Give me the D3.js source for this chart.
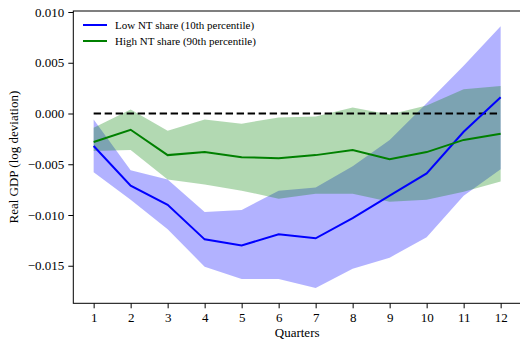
<!DOCTYPE html>
<html>
<head>
<meta charset="utf-8">
<script src="https://cdn.jsdelivr.net/npm/d3@7"></script>
<style>
  html, body { margin: 0; padding: 0; background: #fff; }
  svg { display: block; font-family: "Liberation Serif", "DejaVu Serif", serif; }
</style>
</head>
<body>
<svg id="chart" width="520" height="342"></svg>
<script>
// Impulse responses of real GDP by quarter, with confidence bands
const quarters = [1, 2, 3, 4, 5, 6, 7, 8, 9, 10, 11, 12];

const lowNT      = [-0.0032, -0.0071, -0.0090, -0.0124, -0.0130, -0.0119, -0.0123, -0.0103, -0.0081, -0.0059, -0.0018, 0.0016];
const lowNTUpper = [-0.0006, -0.0056, -0.0065, -0.0097, -0.0095, -0.0076, -0.0073, -0.0052, -0.0026, 0.0010, 0.0047, 0.0086];
const lowNTLower = [-0.0058, -0.0085, -0.0114, -0.0151, -0.0163, -0.0163, -0.0172, -0.0153, -0.0142, -0.0122, -0.0081, -0.0055];

const highNT      = [-0.0028, -0.0016, -0.0041, -0.0038, -0.0043, -0.0044, -0.0041, -0.0036, -0.0045, -0.0038, -0.0026, -0.0020];
const highNTUpper = [-0.0014, 0.0004, -0.0017, -0.0006, -0.0010, -0.0004, -0.0003, 0.0006, -0.0001, 0.0008, 0.0024, 0.0027];
const highNTLower = [-0.0037, -0.0036, -0.0065, -0.0070, -0.0076, -0.0084, -0.0079, -0.0079, -0.0087, -0.0085, -0.0077, -0.0067];

const yTicks = [0.010, 0.005, 0.000, -0.005, -0.010, -0.015];
const legendLabels = ["Low NT share (10th percentile)", "High NT share (90th percentile)"];

const svg = d3.select("#chart");
const plotLeft = 73.3, plotRight = 521, plotTop = 11, plotBottom = 303.3;

const x = d3.scaleLinear().domain([0.45, 12.55]).range([plotLeft, plotRight]);
const y = d3.scaleLinear().domain([-0.0187, 0.0101]).range([plotBottom, plotTop]);

const band = (upper, lower) => d3.area()
  .x((d, i) => x(quarters[i]))
  .y0((d, i) => y(lower[i]))
  .y1((d, i) => y(upper[i]));

const line = vals => d3.line()
  .x((d, i) => x(quarters[i]))
  .y((d, i) => y(vals[i]));

// confidence bands
svg.append("path").datum(lowNT).attr("d", band(lowNTUpper, lowNTLower))
  .attr("fill", "blue").attr("fill-opacity", 0.3);
svg.append("path").datum(highNT).attr("d", band(highNTUpper, highNTLower))
  .attr("fill", "green").attr("fill-opacity", 0.3);

// zero reference line
svg.append("line")
  .attr("x1", x(quarters[0])).attr("x2", x(quarters[quarters.length - 1]))
  .attr("y1", y(0)).attr("y2", y(0))
  .attr("stroke", "#000").attr("stroke-width", 2)
  .attr("stroke-dasharray", "7.4,3.6");

// point estimates
svg.append("path").datum(lowNT).attr("d", line(lowNT))
  .attr("fill", "none").attr("stroke", "blue").attr("stroke-width", 2);
svg.append("path").datum(highNT).attr("d", line(highNT))
  .attr("fill", "none").attr("stroke", "green").attr("stroke-width", 2);

// axes
const xAxis = d3.axisBottom(x).tickValues(quarters).tickSize(5).tickPadding(4);
const yAxis = d3.axisLeft(y).tickValues(yTicks).tickFormat(d3.format(".3f")).tickSize(5).tickPadding(4);

const gx = svg.append("g").attr("transform", `translate(0,${plotBottom})`).call(xAxis);
const gy = svg.append("g").attr("transform", `translate(${plotLeft},0)`).call(yAxis);
[gx, gy].forEach(g => {
  g.select(".domain").remove();
  g.selectAll("text").attr("font-family", "Liberation Serif").attr("font-size", 13).attr("fill", "#000");
  g.selectAll("line").attr("stroke", "#000").attr("stroke-width", 1);
});
gy.selectAll("text").text(d => d3.format(".3f")(d).replace("-", "\u2212"));

// frame
svg.append("rect")
  .attr("x", plotLeft).attr("y", plotTop)
  .attr("width", plotRight - plotLeft).attr("height", plotBottom - plotTop)
  .attr("fill", "none").attr("stroke", "#000").attr("stroke-width", 1);

// axis titles
svg.append("text")
  .attr("x", (plotLeft + plotRight) / 2).attr("y", 337)
  .attr("text-anchor", "middle").attr("font-size", 13)
  .text("Quarters");
svg.append("text")
  .attr("transform", `translate(18,${(plotTop + plotBottom) / 2}) rotate(-90)`)
  .attr("text-anchor", "middle").attr("font-size", 13)
  .text("Real GDP (log deviation)");

// legend
const legend = svg.append("g");
const legendColors = ["blue", "green"];
legendLabels.forEach((label, i) => {
  const ly = 25 + i * 16;
  legend.append("line")
    .attr("x1", 83).attr("x2", 107).attr("y1", ly).attr("y2", ly)
    .attr("stroke", legendColors[i]).attr("stroke-width", 2);
  legend.append("text")
    .attr("x", 115).attr("y", ly).attr("dy", "0.35em")
    .attr("font-size", 11)
    .text(label);
});
</script>
</body>
</html>
